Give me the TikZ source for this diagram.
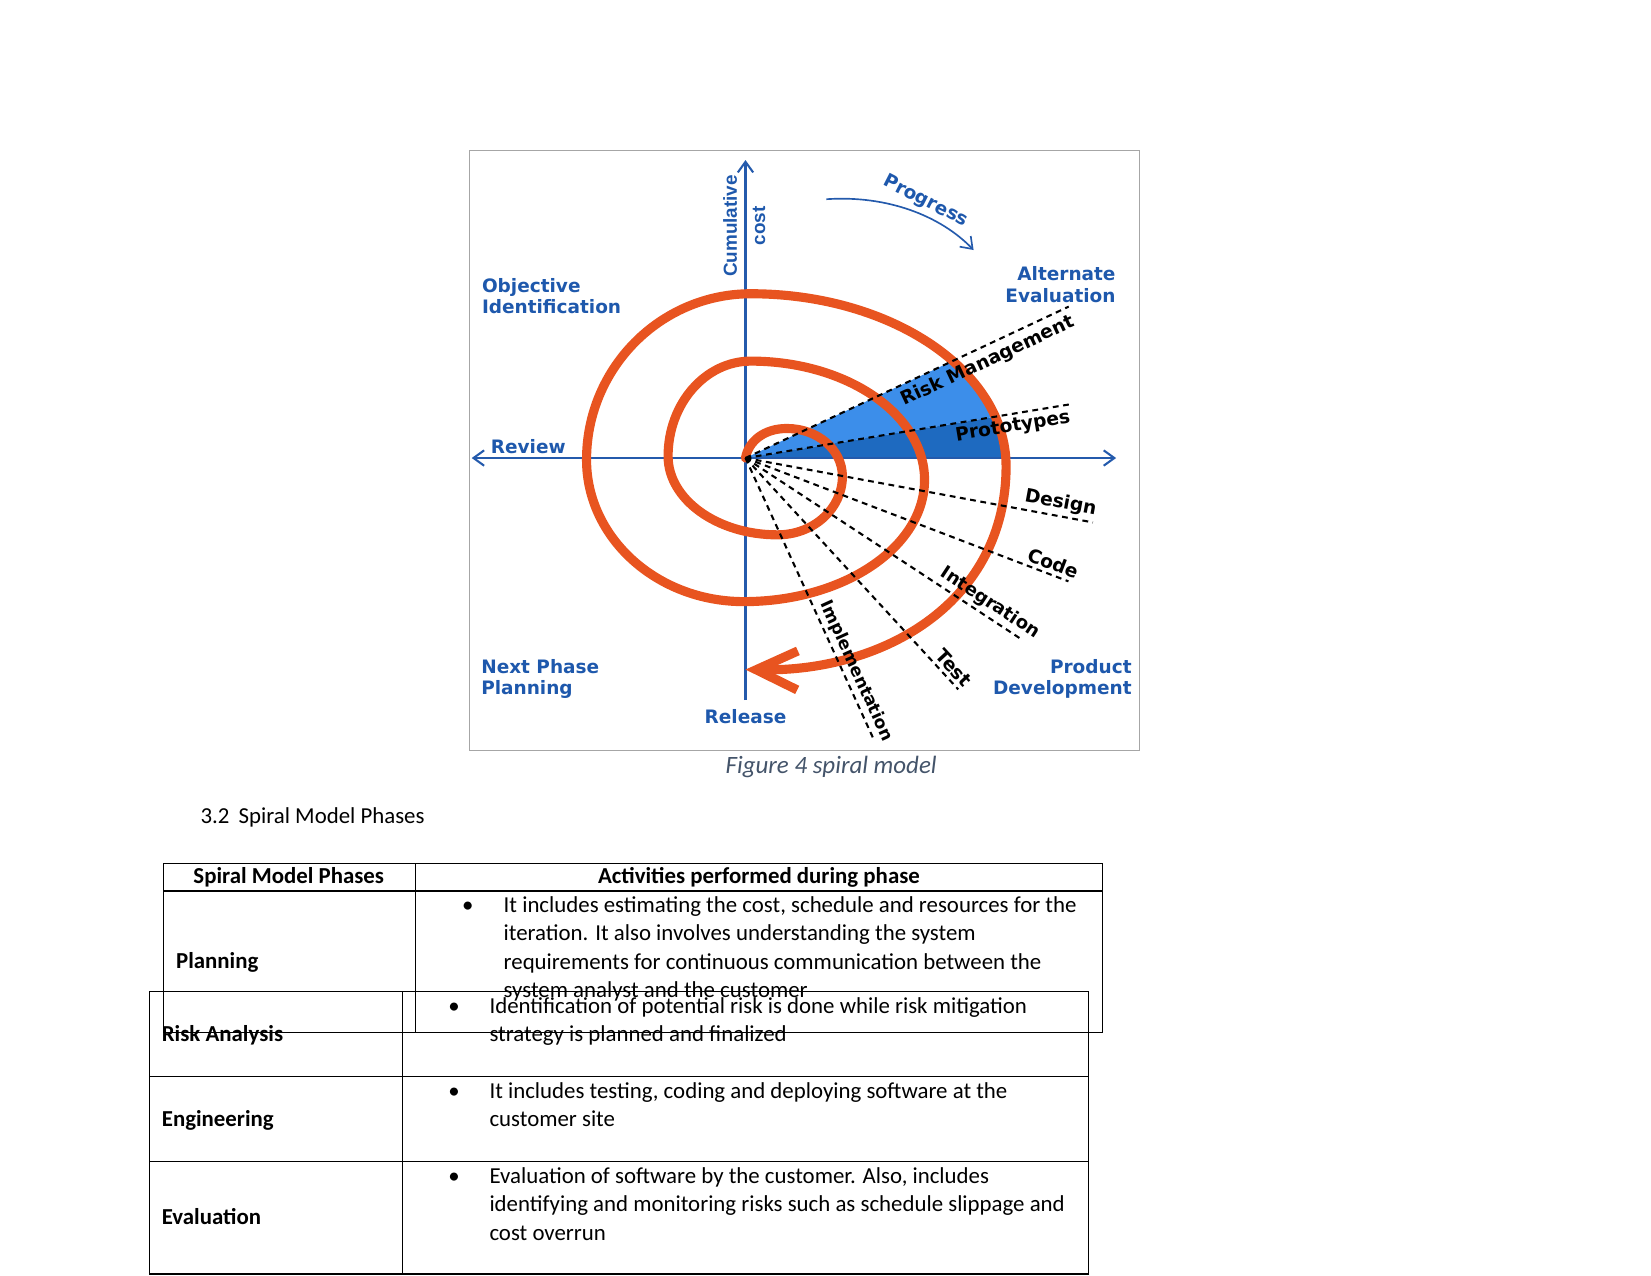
\documentclass[tikz,border=0pt]{standalone}
\usepackage{fontspec}
\setmainfont{Carlito}
\newfontfamily\figfont{DejaVu Sans}
\newfontfamily\costfont{Liberation Sans}
\usepackage{tikz}
\usetikzlibrary{arrows.meta, positioning}

\definecolor{spiralorange}{RGB}{232,84,32}
\definecolor{labelblue}{RGB}{30,88,172}
\definecolor{axisblue}{RGB}{36,90,172}
\definecolor{riskblue}{RGB}{60,142,234}
\definecolor{protoblue}{RGB}{30,106,192}
\definecolor{captiongray}{RGB}{68,84,106}

\tikzset{
  axisline/.style={axisblue, line width=1pt},
  spiral/.style={spiralorange, line width=4.4pt, line cap=round},
  phase/.style={black, line width=1pt, dash pattern=on 2.8pt off 2.2pt},
  blabel/.style={text=labelblue, inner sep=0pt, font=\figfont\bfseries\fontsize{8.9}{10.4}\selectfont},
  phasetag/.style={sloped, inner sep=1.5pt, font=\figfont\bfseries\fontsize{9}{11}\selectfont},
  cell/.style={anchor=base west, align=left, inner sep=0pt, font=\fontsize{11}{13.6}\selectfont},
  tabline/.style={black, line width=0.6pt}
}

\begin{document}
\begin{tikzpicture}[>={Straight Barb[length=1.8mm,width=2.6mm]}]
  \useasboundingbox (0,0) rectangle (27.94,-21.579);

  % spiral model figure
  \begin{scope}[shift={(12.616,-7.751)}]
    \draw [gray!70, line width=0.6pt] (-4.669,5.203) rectangle (6.664,-4.954);
    \coordinate (O) at (0,0);

    % shaded sectors
    \begin{scope}
      \clip (O) -- (25.1:7) -- (9.4:7) -- cycle;
      \fill [riskblue] (0.09,-0.14) ellipse [x radius=4.32, y radius=2.92];
    \end{scope}
    \begin{scope}
      \clip (O) -- (9.4:7) -- (0:7) -- cycle;
      \fill [protoblue] (0.09,-0.14) ellipse [x radius=4.32, y radius=2.92];
    \end{scope}

    \draw [axisline, <->] (-4.633,0) -- (6.272,0);
    \draw [axisline, ->] (0,-4.098) -- (0,5.043);

    % the spiral, one quarter turn per segment
    \draw [spiral, -{Straight Barb[length=7mm,width=6.6mm]}] (O)
      .. controls +(0.05,0.28) and +(-0.39,0) .. (0.70,0.50)
      .. controls +(0.52,0) and +(0,0.45) .. (1.64,-0.31)
      .. controls +(0,-0.55) and +(0.61,0) .. (0.54,-1.30)
      .. controls +(-1.02,0) and +(0,-0.73) .. (-1.31,0.03)
      .. controls +(0,0.89) and +(-0.77,0) .. (0.09,1.64)
      .. controls +(1.62,0) and +(0,1.11) .. (3.03,-0.37)
      .. controls +(0,-1.14) and +(1.69,0) .. (-0.03,-2.43)
      .. controls +(-1.47,0) and +(0,-1.32) .. (-2.69,-0.03)
      .. controls +(0,1.55) and +(-1.53,0) .. (0.09,2.78)
      .. controls +(2.38,0) and +(0,1.61) .. (4.41,-0.14)
      .. controls +(0,-2.26) and +(2.4,-0.04) .. (0,-3.58);

    % phase rays
    \draw [phase] (O) -- (25.1:6.04) node (risk) [phasetag, pos=0.73, below=1pt] {Risk Management};
    \draw [phase] (O) -- (9.4:5.55) node (proto) [phasetag, pos=0.82, below] {Prototypes};
    \draw [phase] (O) -- (-10.5:5.98) node (design) [phasetag, pos=0.9, above] {Design};
    \draw [phase] (O) -- (-20.9:5.85) node (code) [phasetag, pos=0.94, above] {Code};
    \draw [phase] (O) -- (-33.3:5.59) node (integ) [phasetag, pos=0.86, above, font=\figfont\bfseries\fontsize{8.7}{11}\selectfont] {Integration};
    \draw [phase] (O) -- (-47.4:5.32) node (test) [phasetag, pos=0.94, above] {Test};
    \draw [phase] (O) -- (-65.5:5.2) node (impl) [phasetag, pos=0.78, above, font=\figfont\bfseries\fontsize{8.2}{10}\selectfont] {Implementation};

    % progress arrow
    \draw [axisline, ->, line width=0.8pt] (1.37,4.38) .. controls (2.4,4.45) and (3.3,4.1) .. (3.86,3.52);
    \node (progress) at (3.05,4.34) [blabel, rotate=-27] {Progress};

    \node (objective) at (-4.466,3.05) [blabel, anchor=north west, align=left] {Objective\\Identification};
    \node (alternate) at (6.269,3.241) [blabel, anchor=north east, align=right] {Alternate\\Evaluation};
    \node (review) at (-4.316,0.073) [blabel, anchor=base west] {Review};
    \node (nextphase) at (-4.478,-3.398) [blabel, anchor=north west, align=left] {Next Phase\\Planning};
    \node (product) at (6.541,-3.398) [blabel, anchor=north east, align=right] {Product\\Development};
    \node (release) at (0,-4.498) [blabel, anchor=base] {Release};
    \node (cost) at (-0.02,3.926) [rotate=90, align=center, text=labelblue, inner sep=0pt,
      font=\costfont\bfseries\fontsize{9.1}{13.6}\selectfont] {Cumulative\\cost};
  \end{scope}

  \node (caption) at (14.066,-13.097) [anchor=base, text=captiongray, font=\itshape\fontsize{12}{14.6}\selectfont] {Figure 4 spiral model};
  \node (heading) at (3.388,-13.933) [cell] {3.2\hspace{0.4em}Spiral Model Phases};

  % phases table
  \draw [tabline] (2.764,-14.610) rectangle (18.655,-17.470);
  \draw [tabline] (2.764,-15.079) -- (18.655,-15.079);
  \draw [tabline] (7.030,-14.610) -- (7.030,-17.470);
  \draw [tabline] (2.527,-16.782) rectangle (18.418,-21.559);
  \draw [tabline] (6.810,-16.782) -- (6.810,-21.559);
  \draw [tabline] (2.527,-18.220) -- (18.418,-18.220);
  \draw [tabline] (2.527,-19.658) -- (18.418,-19.658);

  \node (head1) at (4.886,-14.948) [cell, anchor=base, font=\bfseries\fontsize{11}{13.6}\selectfont] {Spiral Model Phases};
  \node (head2) at (12.844,-14.948) [cell, anchor=base, font=\bfseries\fontsize{11}{13.6}\selectfont] {Activities performed during phase};

  % multi-line cells sit on the baseline of their last line
  \node (planning) at (2.974,-16.386) [cell, font=\bfseries\fontsize{11}{13.6}\selectfont] {Planning};
  \node (dot1) at (7.917,-15.438) [cell, anchor=base] {\textbullet};
  \node (plantext) at (8.517,-16.877) [cell] {It includes estimating the cost, schedule and resources for the\\
    iteration. It also involves understanding the system\\
    requirements for continuous communication between the\\
    system analyst and the customer};

  \node (riskan) at (2.732,-17.627) [cell, font=\bfseries\fontsize{11}{13.6}\selectfont] {Risk Analysis};
  \node (dot2) at (7.684,-17.147) [cell, anchor=base] {\textbullet};
  \node (risktext) at (8.277,-17.627) [cell] {Identification of potential risk is done while risk mitigation\\
    strategy is planned and finalized};

  \node (engin) at (2.732,-19.066) [cell, font=\bfseries\fontsize{11}{13.6}\selectfont] {Engineering};
  \node (dot3) at (7.684,-18.585) [cell, anchor=base] {\textbullet};
  \node (engtext) at (8.277,-19.066) [cell] {It includes testing, coding and deploying software at the\\
    customer site};

  \node (evalu) at (2.732,-20.730) [cell, font=\bfseries\fontsize{11}{13.6}\selectfont] {Evaluation};
  \node (dot4) at (7.684,-20.025) [cell, anchor=base] {\textbullet};
  \node (evaltext) at (8.277,-20.985) [cell] {Evaluation of software by the customer. Also, includes\\
    identifying and monitoring risks such as schedule slippage and\\
    cost overrun};
\end{tikzpicture}
\end{document}
